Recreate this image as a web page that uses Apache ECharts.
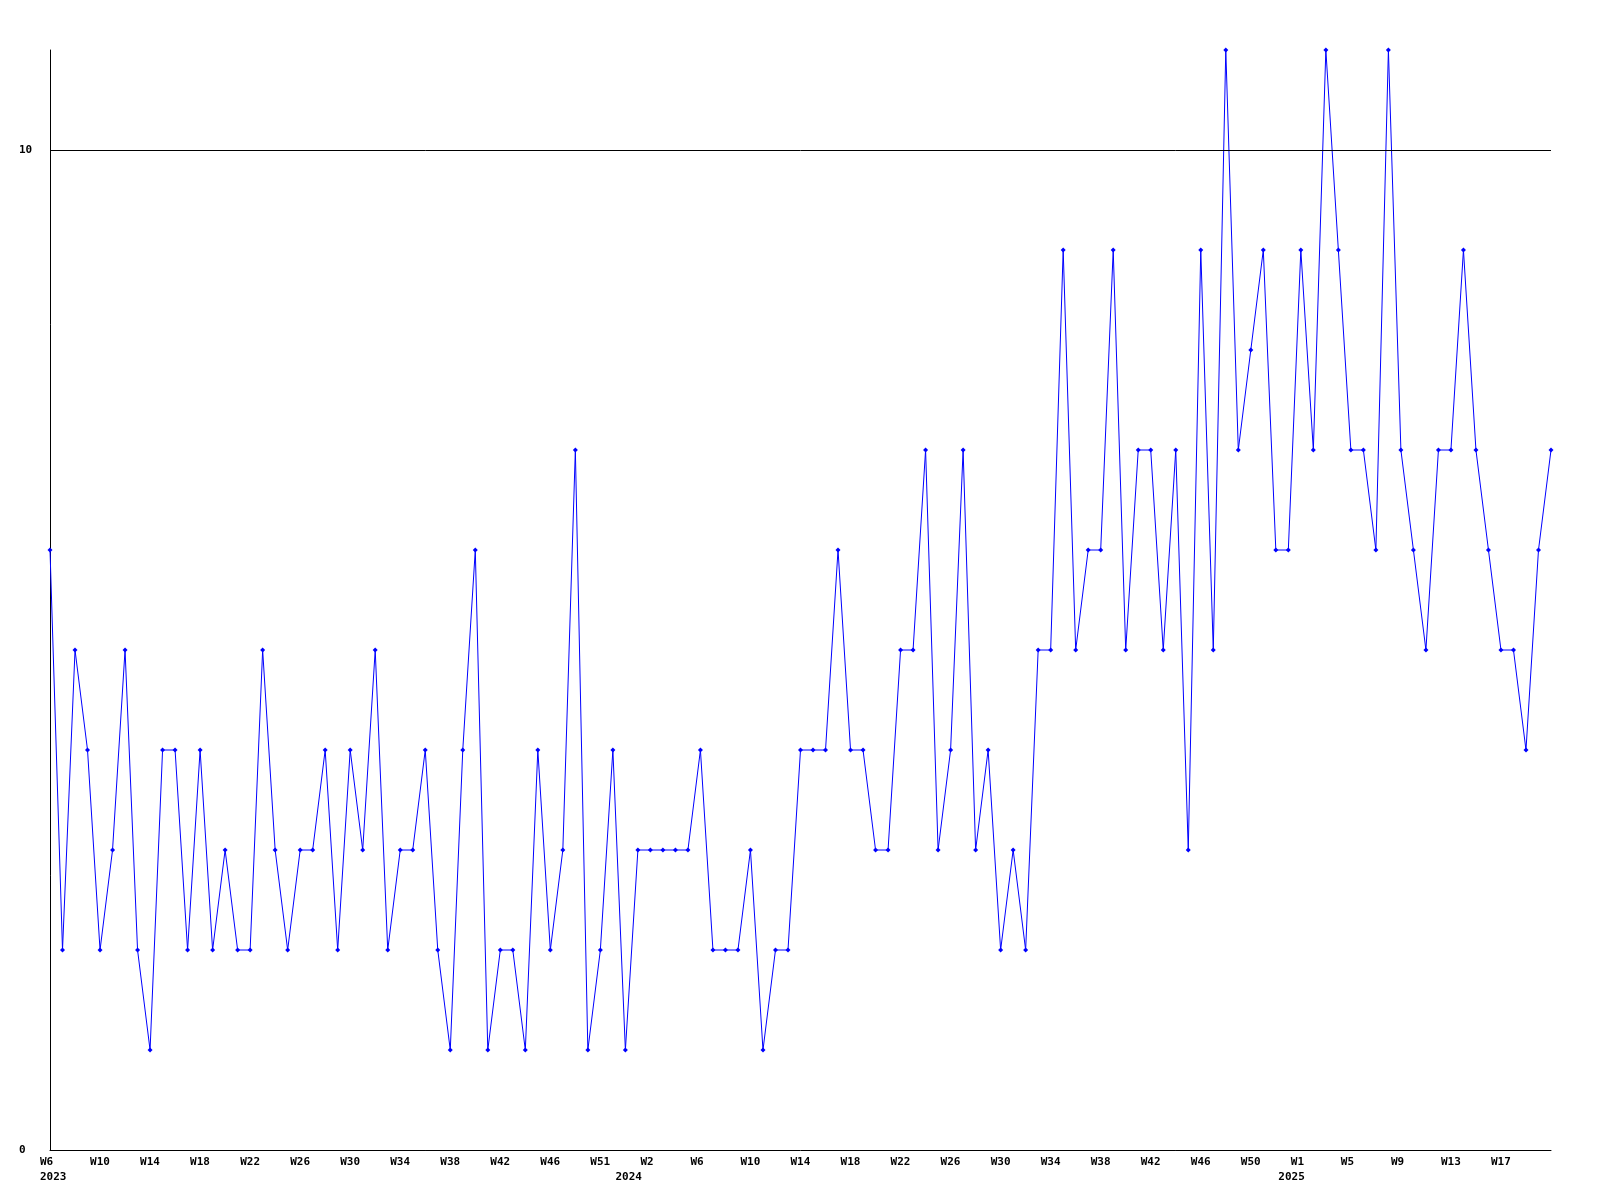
<!DOCTYPE html>
<html>
<head>
<meta charset="utf-8">
<script src="https://cdn.jsdelivr.net/npm/echarts@6/dist/echarts.min.js"></script>
<style>
html,body{margin:0;padding:0;background:#fff;}
#chart{width:1600px;height:1200px;}
</style>
</head>
<body>
<div id="chart"></div>
<script>
// weekly values, 2023 W6 .. 2025
const values = [
  6,2,5,4,2,3,5,2,1,4,4,2,4,2,3,2,2,5,3,2,
  3,3,4,2,4,3,5,2,3,3,4,2,1,4,6,1,2,2,1,4,
  2,3,7,1,2,4,1,3,3,3,3,3,4,2,2,2,3,1,2,2,
  4,4,4,6,4,4,3,3,5,5,7,3,4,7,3,4,2,3,2,5,
  5,9,5,6,6,9,5,7,7,5,7,3,9,5,11,7,8,9,6,6,
  9,7,11,9,7,7,6,11,7,6,5,7,7,9,7,6,5,5,4,6,
  7
];
// tick labels by point index
const weekTicks = {0:'W6',4:'W10',8:'W14',12:'W18',16:'W22',20:'W26',24:'W30',28:'W34',32:'W38',36:'W42',40:'W46',44:'W51',
  48:'W2',52:'W6',56:'W10',60:'W14',64:'W18',68:'W22',72:'W26',76:'W30',80:'W34',84:'W38',88:'W42',92:'W46',96:'W50',
  100:'W1',104:'W5',108:'W9',112:'W13',116:'W17'};
const yearTicks = {0:'2023',46:'2024',99:'2025'};
const yTickLabels = [0, 10];
const categories = values.map((v, i) => String(i));

const chart = echarts.init(document.getElementById('chart'), null, {renderer:'canvas'});
const font = 'DejaVu Sans Mono';
chart.setOption({
  animation: false,
  backgroundColor: '#ffffff',
  grid: {left: 50, right: 49, top: 50, bottom: 50, containLabel: false},
  xAxis: {
    type: 'category',
    data: categories,
    boundaryGap: false,
    axisLine: {show: true, lineStyle: {color: '#000', width: 1}},
    axisTick: {show: false},
    splitLine: {show: false},
    axisLabel: {
      interval: 0,
      margin: 5,
      align: 'left',
      padding: [0, 0, 0, -10],
      color: '#000',
      fontFamily: font,
      fontWeight: 'bold',
      fontSize: 11,
      lineHeight: 15,
      formatter: function (val, idx) {
        const w = weekTicks[idx] || '';
        const y = yearTicks[idx] || '';
        if (!w && !y) return '';
        return w + '\n' + y;
      }
    }
  },
  yAxis: {
    type: 'value',
    min: 0,
    max: 11,
    interval: 10,
    axisLine: {show: true, lineStyle: {color: '#000', width: 1}},
    axisTick: {show: false},
    splitLine: {show: false},
    axisLabel: {
      margin: 31,
      align: 'left',
      color: '#000',
      fontFamily: font,
      fontWeight: 'bold',
      fontSize: 11,
      formatter: v => yTickLabels.includes(v) ? String(v) : ''
    }
  },
  series: [{
    type: 'line',
    data: values,
    symbol: 'diamond',
    symbolSize: 5,
    showAllSymbol: true,
    lineStyle: {color: '#0000ff', width: 1},
    itemStyle: {color: '#0000ff'},
    markLine: {
      silent: true,
      symbol: ['none', 'none'],
      label: {show: false},
      lineStyle: {color: '#000', type: 'solid', width: 1},
      data: [{yAxis: 10}]
    }
  }]
});
</script>
</body>
</html>
